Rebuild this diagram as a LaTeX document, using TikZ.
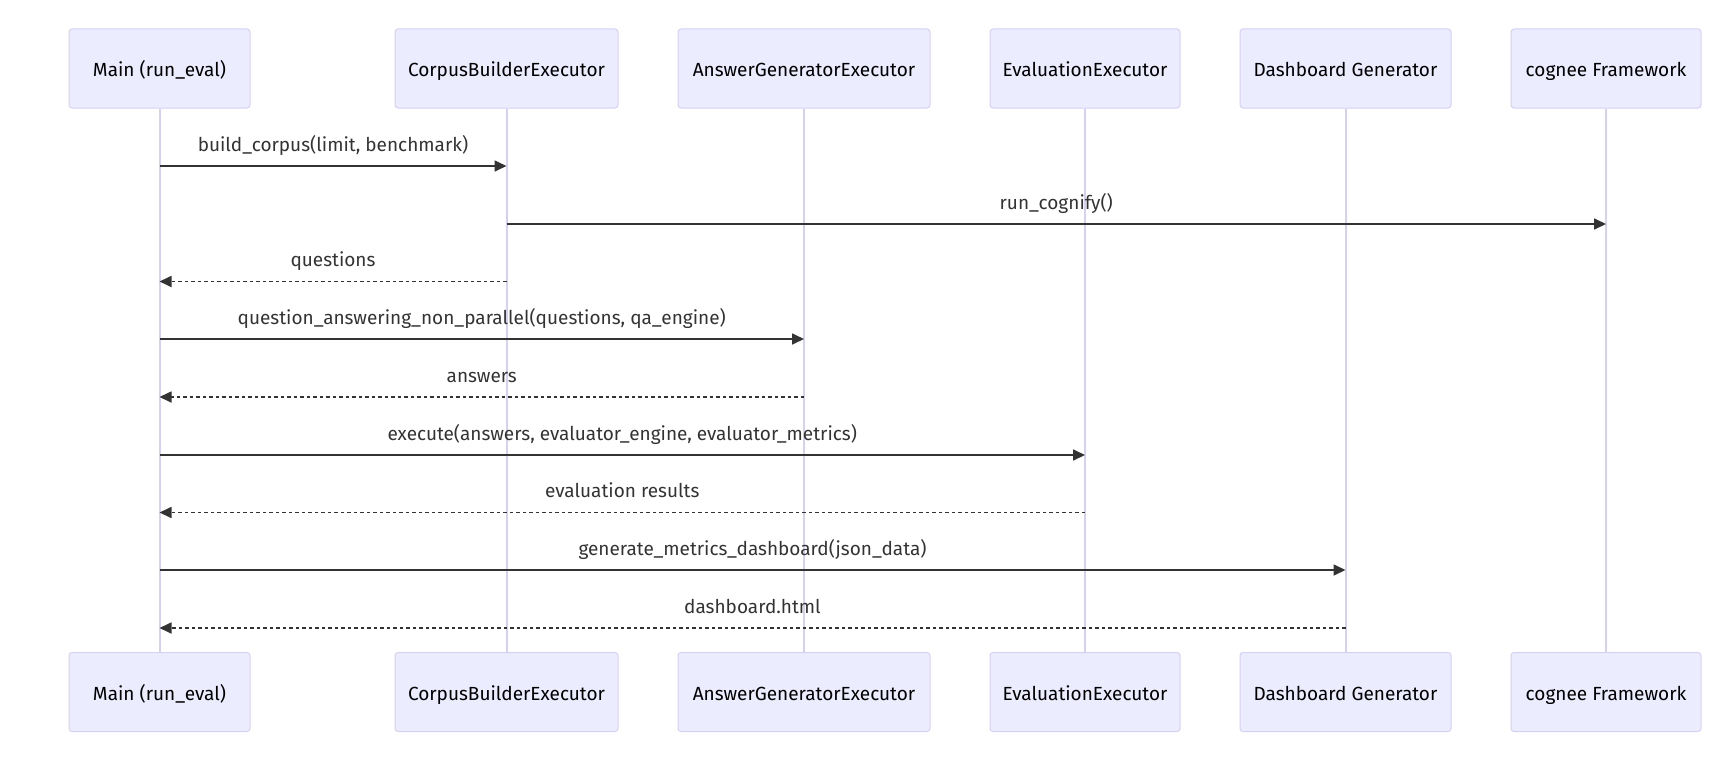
\documentclass[tikz,border=0pt]{standalone}
\usepackage{fontspec}
\setmainfont{Fira Sans}
\usetikzlibrary{arrows.meta,calc}
\definecolor{actfill}{HTML}{ECECFF}
\definecolor{actline}{HTML}{D6D0F4}
\definecolor{msg}{HTML}{333333}
\tikzset{
  actor/.style={draw=actline, line width=1pt, fill=actfill, rounded corners=3pt,
    minimum height=79pt, inner sep=0pt, text height=18pt, text depth=2pt,
    font=\fontsize{19}{22}\selectfont, text=black},
  lifeline/.style={draw=actline, line width=2pt},
  call/.style={draw=msg, line width=1.7pt, -{Triangle[length=12pt,width=11pt]}},
  reply/.style={call, dash pattern=on 3.5pt off 3pt},
  lbl/.style={font=\fontsize{19}{22}\selectfont, text=msg, anchor=base, inner sep=0pt}
}
\begin{document}
\begin{tikzpicture}[x=1pt,y=-1pt]
\useasboundingbox (0,0) rectangle (1736,768);
% top actors
\node[actor, minimum width=181pt] (tA) at (159.5,68.5) {Main (run\_eval)};
\node[actor, minimum width=223pt] (tB) at (506.5,68.5) {CorpusBuilderExecutor};
\node[actor, minimum width=252pt] (tC) at (804,68.5) {AnswerGeneratorExecutor};
\node[actor, minimum width=190pt] (tD) at (1085,68.5) {EvaluationExecutor};
\node[actor, minimum width=211pt] (tE) at (1345.5,68.5) {Dashboard Generator};
\node[actor, minimum width=190pt] (tF) at (1606,68.5) {cognee Framework};
% bottom actors
\node[actor, minimum width=181pt] (bA) at (159.5,692) {Main (run\_eval)};
\node[actor, minimum width=223pt] (bB) at (506.5,692) {CorpusBuilderExecutor};
\node[actor, minimum width=252pt] (bC) at (804,692) {AnswerGeneratorExecutor};
\node[actor, minimum width=190pt] (bD) at (1085,692) {EvaluationExecutor};
\node[actor, minimum width=211pt] (bE) at (1345.5,692) {Dashboard Generator};
\node[actor, minimum width=190pt] (bF) at (1606,692) {cognee Framework};
% lifelines
\foreach \n in {A,B,C,D,E,F} \draw[lifeline] (t\n.south) -- (b\n.north);
% message rows
\coordinate (r1) at (0,166);
\coordinate (r2) at (0,224);
\coordinate (r3) at (0,281.5);
\coordinate (r4) at (0,339);
\coordinate (r5) at (0,397);
\coordinate (r6) at (0,455);
\coordinate (r7) at (0,512.5);
\coordinate (r8) at (0,570);
\coordinate (r9) at (0,628);
% messages
\draw[call] (tA |- r1) -- (tB |- r1);
\node[lbl] at ($(tA |- r1)!0.5!(tB |- r1) + (0,-15)$) {build\_corpus(limit, benchmark)};
\draw[call] (tB |- r2) -- (tF |- r2);
\node[lbl] at ($(tB |- r2)!0.5!(tF |- r2) + (0,-15)$) {run\_cognify()};
\draw[reply] (tB |- r3) -- (tA |- r3);
\node[lbl] at ($(tB |- r3)!0.5!(tA |- r3) + (0,-15)$) {questions};
\draw[call] (tA |- r4) -- (tC |- r4);
\node[lbl] at ($(tA |- r4)!0.5!(tC |- r4) + (0,-15)$) {question\_answering\_non\_parallel(questions, qa\_engine)};
\draw[reply] (tC |- r5) -- (tA |- r5);
\node[lbl] at ($(tC |- r5)!0.5!(tA |- r5) + (0,-15)$) {answers};
\draw[call] (tA |- r6) -- (tD |- r6);
\node[lbl] at ($(tA |- r6)!0.5!(tD |- r6) + (0,-15)$) {execute(answers, evaluator\_engine, evaluator\_metrics)};
\draw[reply] (tD |- r7) -- (tA |- r7);
\node[lbl] at ($(tD |- r7)!0.5!(tA |- r7) + (0,-15)$) {evaluation results};
\draw[call] (tA |- r8) -- (tE |- r8);
\node[lbl] at ($(tA |- r8)!0.5!(tE |- r8) + (0,-15)$) {generate\_metrics\_dashboard(json\_data)};
\draw[reply] (tE |- r9) -- (tA |- r9);
\node[lbl] at ($(tE |- r9)!0.5!(tA |- r9) + (0,-15)$) {dashboard.html};
\end{tikzpicture}
\end{document}
